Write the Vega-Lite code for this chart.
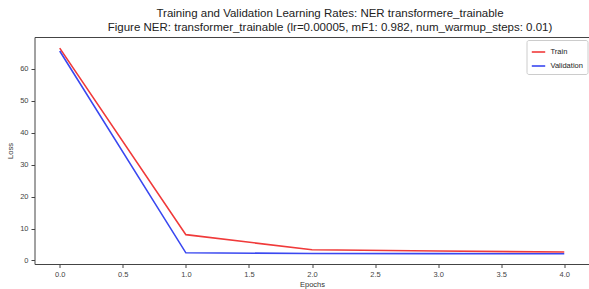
{
  "$schema": "https://vega.github.io/schema/vega-lite/v6.json",
  "autosize": {"type": "none"},
  "padding": {"left": 34.5, "top": 37, "right": 0, "bottom": 26},
  "width": 555,
  "height": 227,
  "background": "white",
  "title": {
    "text": ["Training and Validation Learning Rates: NER transformere_trainable", "Figure NER: transformer_trainable (lr=0.00005, mF1: 0.982, num_warmup_steps: 0.01)"],
    "font": "Liberation Sans",
    "fontSize": 11.5,
    "fontWeight": "normal",
    "color": "#222",
    "anchor": "middle",
    "dx": 18,
    "offset": 4,
    "lineHeight": 14
  },
  "config": {
    "view": {"stroke": "#444", "strokeWidth": 1},
    "axis": {
      "grid": false,
      "domain": false,
      "labelFont": "Liberation Sans",
      "labelFontSize": 7.5,
      "labelColor": "#444",
      "tickColor": "#444",
      "tickSize": 3.5,
      "titleFont": "Liberation Sans",
      "titleFontSize": 7.5,
      "titleFontWeight": "normal",
      "titleColor": "#333"
    }
  },
  "data": {
    "values": [
      {"epoch": 0, "loss": 66.5, "series": "Train"},
      {"epoch": 1, "loss": 8.1, "series": "Train"},
      {"epoch": 2, "loss": 3.35, "series": "Train"},
      {"epoch": 3, "loss": 2.95, "series": "Train"},
      {"epoch": 4, "loss": 2.65, "series": "Train"},
      {"epoch": 0, "loss": 65.6, "series": "Validation"},
      {"epoch": 1, "loss": 2.4, "series": "Validation"},
      {"epoch": 2, "loss": 2.2, "series": "Validation"},
      {"epoch": 3, "loss": 2.15, "series": "Validation"},
      {"epoch": 4, "loss": 2.1, "series": "Validation"}
    ]
  },
  "mark": {"type": "line", "strokeWidth": 1.6, "clip": true},
  "encoding": {
    "x": {
      "field": "epoch",
      "type": "quantitative",
      "scale": {"domain": [-0.2, 4.2], "nice": false, "zero": false},
      "axis": {"values": [0, 0.5, 1, 1.5, 2, 2.5, 3, 3.5, 4], "format": ".1f", "title": "Epochs", "titlePadding": 2, "labelPadding": 3}
    },
    "y": {
      "field": "loss",
      "type": "quantitative",
      "scale": {"domain": [-1.1, 70.0], "nice": false, "zero": false},
      "axis": {"values": [0, 10, 20, 30, 40, 50, 60], "title": "Loss", "titlePadding": 5, "labelPadding": 3}
    },
    "color": {
      "field": "series",
      "type": "nominal",
      "scale": {"domain": ["Train", "Validation"], "range": ["#f03a3a", "#3a48f0"]},
      "legend": {
        "title": null,
        "orient": "none",
        "legendX": 492,
        "legendY": 3,
        "symbolType": "stroke",
        "symbolStrokeWidth": 1.6,
        "symbolSize": 180,
        "labelFont": "Liberation Sans",
        "labelFontSize": 7.5,
        "labelColor": "#222",
        "strokeColor": "#ccc",
        "fillColor": "white",
        "padding": 4,
        "rowPadding": 2,
        "cornerRadius": 2
      }
    }
  }
}
